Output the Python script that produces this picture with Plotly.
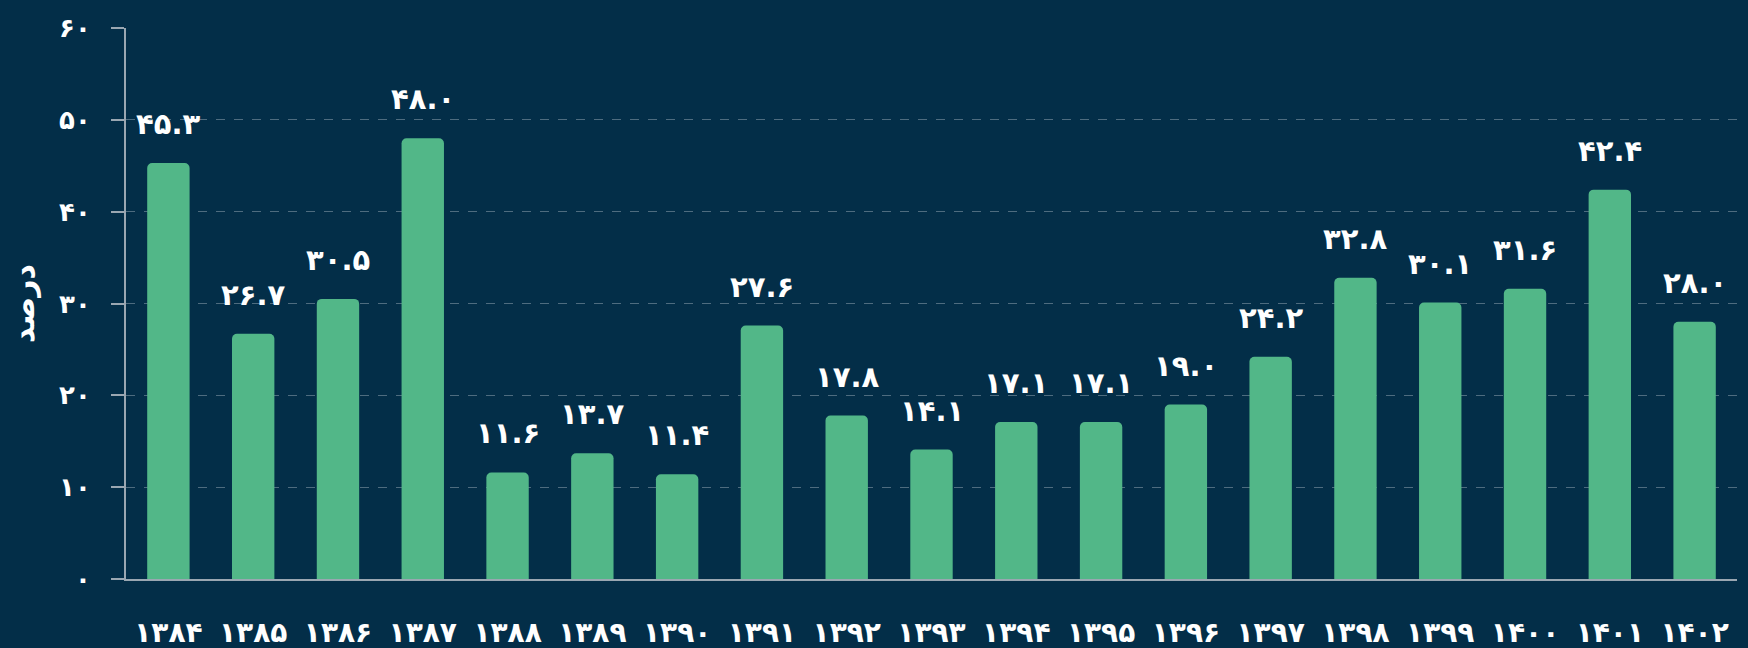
import plotly.graph_objects as go

# Annual values (percent) by Persian calendar year
years = ["۱۳۸۴", "۱۳۸۵", "۱۳۸۶", "۱۳۸۷", "۱۳۸۸", "۱۳۸۹", "۱۳۹۰", "۱۳۹۱", "۱۳۹۲", "۱۳۹۳",
         "۱۳۹۴", "۱۳۹۵", "۱۳۹۶", "۱۳۹۷", "۱۳۹۸", "۱۳۹۹", "۱۴۰۰", "۱۴۰۱", "۱۴۰۲"]
values = [45.3, 26.7, 30.5, 48.0, 11.6, 13.7, 11.4, 27.6, 17.8, 14.1,
          17.1, 17.1, 19.0, 24.2, 32.8, 30.1, 31.6, 42.4, 28.0]
y_ticks = [0, 10, 20, 30, 40, 50, 60]
y_title = "درصد"

PERSIAN_DIGITS = str.maketrans("0123456789", "۰۱۲۳۴۵۶۷۸۹")


def fa(s):
    return str(s).translate(PERSIAN_DIGITS)


BG = "#032e48"
BAR = "#52b788"
FONT = "DejaVu Sans"

fig = go.Figure()
fig.add_trace(go.Bar(
    x=years, y=values,
    marker=dict(color=BAR, line=dict(width=0)),
    hoverinfo="skip",
))

# Value labels floating above each bar
for yr, v in zip(years, values):
    fig.add_annotation(
        x=yr, y=v, text=f"<b>{fa(f'{v:.1f}')}</b>",
        showarrow=False, yanchor="bottom", yshift=20,
        font=dict(family=FONT, size=29, color="white"),
    )

fig.update_layout(
    width=1748, height=648,
    margin=dict(l=126, r=11, t=28, b=69, autoexpand=False),
    paper_bgcolor=BG, plot_bgcolor=BG,
    bargap=0.5, barcornerradius=5,
    showlegend=False,
    font=dict(family=FONT, color="white"),
)
fig.update_xaxes(
    type="category", automargin=False,
    showline=True, linecolor="#9aa7b2", linewidth=2,
    showgrid=False, ticks="",
    ticklabelstandoff=27,
    tickfont=dict(family=FONT, size=28, color="white", weight="bold"),
)
fig.update_yaxes(
    range=[0, 60], automargin=False,
    tickvals=y_ticks, ticktext=[fa(t) for t in y_ticks],
    showline=True, linecolor="#9aa7b2", linewidth=2,
    ticks="outside", ticklen=13, tickcolor="#9aa7b2", tickwidth=2,
    ticklabelstandoff=15,
    showgrid=True, gridcolor="rgba(170,185,195,0.45)", griddash="dash", gridwidth=1,
    zeroline=False,
    tickfont=dict(family=FONT, size=26, color="white", weight="bold"),
    title=dict(text=y_title, standoff=16,
               font=dict(family=FONT, size=30, color="white", weight="bold")),
)

fig.write_html("out.html")
